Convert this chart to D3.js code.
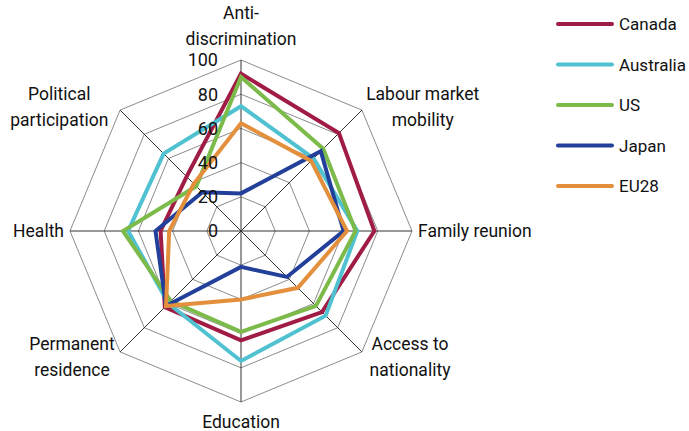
<!DOCTYPE html>
<html>
<head>
<meta charset="utf-8">
<script src="https://cdn.jsdelivr.net/npm/d3@7"></script>
<style>
  body { margin: 0; background: #fff; }
  svg { display: block; font-family: Roboto, "DejaVu Sans", sans-serif; }
</style>
</head>
<body>
<script>
// axes, clockwise from the top
const categories = [
  ["Anti-", "discrimination"],
  ["Labour market", "mobility"],
  ["Family reunion"],
  ["Access to", "nationality"],
  ["Education"],
  ["Permanent", "residence"],
  ["Health"],
  ["Political", "participation"]
];
const tickValues = [0, 20, 40, 60, 80, 100];
const seriesNames = ["Canada", "Australia", "US", "Japan", "EU28"];
const canada    = [92, 81, 78, 67, 64, 63, 47, 45];
const australia = [73, 60, 68, 70, 76, 60, 66, 64];
const us        = [90, 68, 67, 62, 59, 58, 69, 37];
const japan     = [22, 66, 60, 38, 21, 62, 50, 32];
const eu28      = [63, 58, 62, 47, 40, 62, 42, 39];
const seriesValues = [canada, australia, us, japan, eu28];
const colors = ["#a01c44", "#4fc1d0", "#7cbb4a", "#22409a", "#e38f3c"];

const width = 689, height = 431;
const cx = 241, cy = 231, R = 171;

const svg = d3.select("body").append("svg")
  .attr("width", width).attr("height", height);

const r = d3.scaleLinear().domain([0, 100]).range([0, R]);
const angle = d3.scaleLinear().domain([0, categories.length]).range([0, 2 * Math.PI]);

const pt = (i, v) => [cx + r(v) * Math.sin(angle(i)), cy - r(v) * Math.cos(angle(i))];

// rings (gray octagons)
const ringLine = d3.line();
svg.append("g").selectAll("path")
  .data(tickValues.slice(1))
  .join("path")
  .attr("d", v => ringLine(categories.map((c, i) => pt(i, v))) + "Z")
  .attr("fill", "none")
  .attr("stroke", "#8c8c8c")
  .attr("stroke-width", 1);

// spokes
svg.append("g").selectAll("line")
  .data(categories)
  .join("line")
  .attr("x1", cx).attr("y1", cy)
  .attr("x2", (c, i) => pt(i, 100)[0])
  .attr("y2", (c, i) => pt(i, 100)[1])
  .attr("stroke", "#333")
  .attr("stroke-width", 1);

// series
const radar = d3.line()
  .x((v, i) => pt(i, v)[0])
  .y((v, i) => pt(i, v)[1])
  .curve(d3.curveLinearClosed);

svg.append("g").selectAll("path")
  .data(seriesValues)
  .join("path")
  .attr("d", radar)
  .attr("fill", "none")
  .attr("stroke", (d, i) => colors[i])
  .attr("stroke-width", 4)
  .attr("stroke-linejoin", "miter");

// tick labels
svg.append("g").selectAll("text")
  .data(tickValues)
  .join("text")
  .attr("x", cx - 23)
  .attr("y", v => cy - r(v))
  .attr("dy", "0.36em")
  .attr("text-anchor", "end")
  .attr("font-size", 18)
  .attr("fill", "#111")
  .text(v => v);

// category labels
const lineH = 26;
const labels = svg.append("g").attr("font-size", 17.5).attr("fill", "#111");
categories.forEach((lines, i) => {
  const a = angle(i);
  const s = Math.sin(a), c = Math.cos(a);
  const [vx, vy] = pt(i, 100);
  let x, y, anchor;
  if (Math.abs(s) < 0.01) {          // top / bottom
    x = vx; anchor = "middle";
    y = c > 0 ? vy - 21 - (lines.length - 1) * lineH : vy + 20;
  } else if (Math.abs(c) < 0.01) {   // left / right
    x = vx + s * 6; anchor = s > 0 ? "start" : "end";
    y = vy;
  } else {                           // diagonals
    x = vx + s * (c > 0 ? 86 : 68); anchor = "middle";
    y = vy - (c > 0 ? 3 : -5);
    y -= (lines.length - 1) * lineH / 2;
  }
  const t = labels.append("text")
    .attr("text-anchor", anchor)
    .attr("x", x).attr("y", y)
    .attr("dy", "0.36em");
  lines.forEach((l, j) => {
    t.append("tspan").attr("x", x).attr("dy", j === 0 ? "0.36em" : lineH).text(l);
  });
});

// legend
const legend = svg.append("g").selectAll("g")
  .data(seriesNames)
  .join("g")
  .attr("transform", (d, i) => `translate(558,${24 + i * 40.5})`);
legend.append("line")
  .attr("x1", 0).attr("x2", 54)
  .attr("stroke", (d, i) => colors[i])
  .attr("stroke-width", 4)
  .attr("stroke-linecap", "round");
legend.append("text")
  .attr("x", 61)
  .attr("dy", "0.36em")
  .attr("font-size", 17)
  .attr("fill", "#111")
  .text(d => d);
</script>
</body>
</html>
